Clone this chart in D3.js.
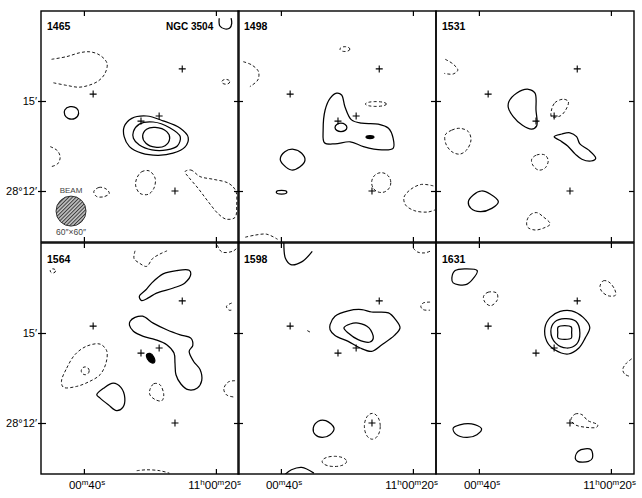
<!DOCTYPE html>
<html>
<head>
<meta charset="utf-8">
<script src="https://cdn.jsdelivr.net/npm/d3@7"></script>
<style>
  body { margin: 0; background: #fff; }
</style>
</head>
<body>
<div id="chart"></div>
<script>
// channel velocities (km/s), one panel each
const channels = ["1465", "1498", "1531", "1564", "1598", "1631"];
// RA in seconds after 11h00m, Dec in arcmin after 28deg
const raTicks = [40, 20];
const raLabels = [["00", "m", "40", "s"], ["11", "h", "00", "m", "20", "s"]];
const decTicks = [15, 12];
const decLabels = ["15\u2032", "28\u00b012\u2032"];
// markers (same in every channel)
const stars = [[25.1, 16.07], [38.6, 15.23], [28.6, 14.5], [31.35, 14.33], [26.2, 12.0]];
// beam: centre and size in arcsec
const beam = { ra: 41.95, dec: 11.33, size: 60 };

// contours: lev > 0 solid, lev < 0 dashed, lev 9 = filled peak
const c1465 = [
  { lev: -1, open: true, pts: [[44.9,16.39],[42.6,16.48],[40.6,16.61],[39.1,16.64],[37.6,16.53],[36.5,16.26],[36.8,15.92],[37.8,15.67],[39.3,15.52],[40.8,15.46],[42.6,15.52],[44.7,15.61]] },
  { lev: 1, pts: [[42.9,14.7],[42.1,14.81],[41.1,14.76],[40.8,14.59],[41.35,14.42],[42.4,14.42],[42.9,14.53]] },
  { lev: 1, pts: [[33.9,14.14],[32.75,14.42],[30.5,14.5],[28.0,14.34],[25.4,14.09],[24.2,13.79],[24.7,13.46],[26.5,13.26],[28.7,13.19],[31.25,13.26],[33.1,13.48],[33.9,13.81]] },
  { lev: 2, pts: [[32.5,13.98],[31.6,14.23],[29.5,14.3],[27.0,14.11],[25.4,13.81],[25.85,13.5],[27.45,13.37],[29.7,13.37],[31.6,13.53],[32.5,13.76]] },
  { lev: 3, pts: [[31.1,13.83],[30.5,14.06],[29.2,14.12],[27.45,13.98],[27.0,13.76],[27.7,13.51],[29.2,13.46],[30.6,13.59]] },
  { lev: -1, open: true, pts: [[45.1,13.48],[44.0,13.34],[43.6,13.12],[44.0,12.9],[45.0,12.81]] },
  { lev: -1, pts: [[32.0,12.42],[31.25,12.64],[30.1,12.67],[29.2,12.42],[29.4,12.09],[30.25,11.89],[31.5,11.92],[32.15,12.17]] },
  { lev: -1, pts: [[38.5,11.98],[37.7,12.12],[36.65,12.07],[36.15,11.92],[36.95,11.81],[38.1,11.82]] },
  { lev: -1, pts: [[24.7,12.64],[23.8,12.7],[22.4,12.48],[20.4,12.39],[18.1,12.26],[17.0,12.01],[16.85,11.53],[17.1,11.12],[18.4,11.06],[19.6,11.23],[21.15,11.64],[22.7,12.09],[24.2,12.48]] },
  { lev: -1, ell: [18.5, 15.64, 0.6, 0.08] },
  { lev: 1, open: true, pts: [[19.5,17.76],[19.4,17.5],[18.6,17.4],[17.9,17.43],[17.6,17.59],[17.7,17.76]] }
];
const c1498 = [
  { lev: -1, ell: [30.3, 16.73, 0.75, 0.08] },
  { lev: -1, open: true, pts: [[45.7,16.31],[44.4,16.2],[43.4,15.98],[43.5,15.7],[44.7,15.48]] },
  { lev: -1, ell: [25.6, 14.9, 1.6, 0.08] },
  { lev: 1, pts: [[33.3,14.7],[32.55,15.09],[31.55,15.26],[30.8,15.2],[30.3,14.81],[29.3,14.37],[27.75,14.26],[25.25,14.23],[23.7,14.09],[23.0,13.76],[23.0,13.42],[24.7,13.37],[27.5,13.48],[29.5,13.64],[31.8,13.57],[33.4,13.61],[33.6,14.03]] },
  { lev: 2, ell: [30.9, 14.12, 0.9, 0.14] },
  { lev: 9, ell: [26.5, 13.8, 0.6, 0.05] },
  { lev: 1, pts: [[40.1,13.06],[39.4,13.31],[38.1,13.39],[36.85,13.26],[36.35,13.03],[37.1,12.81],[38.4,12.7],[39.6,12.87]] },
  { lev: 1, ell: [39.9, 11.96, 0.8, 0.06] },
  { lev: -1, ell: [24.8, 12.28, 1.45, 0.33] },
  { lev: -1, open: true, pts: [[16.9,12.17],[18.7,12.22],[20.3,12.06],[21.35,11.79],[21.1,11.53],[19.7,11.34],[17.7,11.3],[16.65,11.37]] },
  { lev: -1, open: true, pts: [[45.4,10.46],[43.9,10.53],[42.15,10.56],[40.5,10.39]] }
];
const c1531 = [
  { lev: -1, open: true, pts: [[45.1,16.39],[43.9,16.23],[43.2,16.03],[43.9,15.9],[45.25,15.92]] },
  { lev: 1, pts: [[35.45,14.98],[34.3,15.26],[32.5,15.39],[31.5,15.26],[31.35,14.7],[31.25,14.17],[32.0,14.06],[33.4,14.19],[34.8,14.48],[35.55,14.79]] },
  { lev: -1, pts: [[29.0,14.7],[28.5,14.94],[27.2,15.06],[26.45,14.98],[26.85,14.7],[27.7,14.5],[29.0,14.48]] },
  { lev: 1, pts: [[28.6,13.81],[27.45,13.9],[26.2,13.94],[25.2,13.81],[24.7,13.57],[23.4,13.37],[22.3,13.09],[23.0,13.0],[24.4,13.06],[25.4,13.23],[26.55,13.5],[27.7,13.68]] },
  { lev: -1, pts: [[45.1,13.87],[44.1,14.03],[42.9,14.09],[41.6,13.98],[41.2,13.7],[41.85,13.37],[42.9,13.23],[44.1,13.31],[45.0,13.57]] },
  { lev: -1, pts: [[32.0,13.06],[31.25,13.2],[30.0,13.2],[29.5,13.01],[30.0,12.76],[31.0,12.7],[31.85,12.87]] },
  { lev: 1, pts: [[41.6,11.64],[40.85,11.87],[39.6,12.0],[38.3,11.9],[37.05,11.64],[38.05,11.42],[39.8,11.31],[41.2,11.42]] },
  { lev: -1, pts: [[32.75,10.98],[32.25,11.2],[31.25,11.28],[30.25,11.14],[29.2,10.9],[30.25,10.76],[31.5,10.7],[32.6,10.79]] }
];
const c1564 = [
  { lev: -1, ell: [44.7, 17.07, 0.4, 0.07] },
  { lev: -1, open: true, pts: [[32.25,17.74],[32.4,17.48],[31.6,17.33],[30.5,17.22],[29.6,17.48],[28.5,17.63],[27.4,17.74]] },
  { lev: 1, pts: [[31.6,16.22],[30.6,16.44],[29.7,16.67],[28.0,16.97],[25.95,17.08],[24.05,17.09],[23.8,16.97],[24.7,16.67],[26.45,16.5],[29.0,16.33],[30.25,16.17],[31.25,16.08]] },
  { lev: -1, open: true, pts: [[17.6,16.0],[18.4,15.89],[18.0,15.76],[17.4,15.78]] },
  { lev: 1, pts: [[33.0,15.39],[32.25,15.52],[31.1,15.56],[29.5,15.33],[27.45,15.11],[25.4,14.94],[23.8,14.83],[23.5,14.59],[24.05,14.39],[23.4,14.06],[22.4,13.78],[22.15,13.41],[22.8,13.17],[24.2,13.11],[25.3,13.3],[26.05,13.61],[26.2,14.0],[26.35,14.33],[27.45,14.61],[29.2,14.78],[31.0,14.89],[32.5,15.06],[33.1,15.26]] },
  { lev: 9, pts: [[30.5,14.28],[30.0,14.32],[29.4,14.19],[29.3,14.03],[29.7,14.0],[30.4,14.14]] },
  { lev: -1, pts: [[43.4,13.39],[42.6,13.83],[41.35,14.28],[39.6,14.56],[37.55,14.63],[36.55,14.41],[36.65,14.0],[37.55,13.61],[39.1,13.39],[41.1,13.22],[43.1,13.19]] },
  { lev: -2, ell: [39.8, 13.74, 0.6, 0.13] },
  { lev: 1, pts: [[38.05,12.94],[36.95,13.17],[35.55,13.33],[34.4,13.19],[33.8,12.83],[34.1,12.52],[35.05,12.41],[36.3,12.61],[37.55,12.83]] },
  { lev: -1, pts: [[30.0,13.11],[29.4,13.31],[28.5,13.28],[27.9,12.94],[28.2,12.74],[29.2,12.78],[30.0,12.94]] },
  { lev: -1, open: true, pts: [[17.1,13.41],[18.1,13.37],[18.8,13.14],[18.4,12.94],[17.1,12.86]] },
  { lev: -1, open: true, pts: [[32.0,10.41],[30.5,10.44],[28.5,10.41],[27.05,10.33]] },
  { lev: -1, open: true, pts: [[19.8,17.93],[19.1,17.7],[17.4,17.73],[16.65,17.87]] }
];
const c1598 = [
  { lev: 1, open: true, pts: [[39.55,18.0],[39.3,17.48],[38.5,17.28],[36.85,17.37],[35.25,17.72]] },
  { lev: -1, open: true, pts: [[19.95,17.83],[19.3,17.7],[18.2,17.67],[17.25,17.74]] },
  { lev: -1, open: true, pts: [[17.4,16.03],[18.45,16.0],[18.8,15.89],[18.45,15.78],[17.4,15.76]] },
  { lev: -1, open: true, pts: [[36.0,15.08],[35.5,15.02]] },
  { lev: 1, pts: [[32.55,15.28],[31.8,15.56],[29.8,15.74],[27.75,15.78],[26.25,15.7],[23.7,15.67],[22.6,15.44],[21.95,15.17],[22.8,14.92],[24.7,14.61],[26.25,14.39],[28.0,14.5],[29.8,14.72],[31.8,14.92],[32.55,15.11]] },
  { lev: 2, pts: [[30.45,15.17],[29.5,15.3],[28.3,15.33],[26.65,15.17],[26.0,14.83],[26.5,14.7],[28.3,14.78],[29.8,15.0]] },
  { lev: 1, pts: [[35.1,11.83],[34.35,12.06],[33.2,12.08],[31.95,11.83],[32.55,11.61],[33.75,11.52],[34.8,11.61]] },
  { lev: -1, ell: [26.15, 11.89, 1.2, 0.43] },
  { lev: -1, ell: [31.9, 10.72, 1.85, 0.17] },
  { lev: 1, open: true, pts: [[39.5,10.26],[38.4,10.44],[36.85,10.52],[35.0,10.33]] }
];
const c1631 = [
  { lev: 1, pts: [[44.1,16.83],[43.6,17.08],[42.1,17.14],[40.25,17.08],[41.0,16.78],[42.0,16.61],[43.9,16.67]] },
  { lev: -1, pts: [[39.3,16.22],[38.6,16.36],[37.3,16.33],[37.2,16.11],[38.2,15.91],[39.1,16.03]] },
  { lev: -1, pts: [[21.65,16.56],[21.15,16.74],[20.3,16.7],[19.4,16.44],[19.3,16.26],[20.4,16.24],[21.4,16.39]] },
  { lev: 1, pts: [[30.0,15.17],[29.2,15.52],[27.7,15.72],[25.95,15.74],[24.2,15.52],[23.2,15.19],[23.9,14.83],[24.85,14.5],[26.45,14.3],[28.5,14.44],[29.7,14.72]] },
  { lev: 2, pts: [[29.1,15.06],[28.5,15.37],[27.0,15.48],[25.3,15.39],[24.7,15.0],[25.2,14.63],[26.7,14.5],[28.4,14.67]] },
  { lev: 3, pts: [[28.0,15.2],[27.0,15.25],[26.0,15.2],[25.95,15.02],[26.0,14.83],[27.0,14.79],[28.0,14.83],[28.05,15.02]] },
  { lev: -1, open: true, pts: [[16.85,14.14],[17.75,13.97],[18.2,13.78],[17.9,13.63],[17.25,13.56]] },
  { lev: -1, pts: [[26.05,12.11],[25.4,12.3],[24.4,12.28],[23.5,12.08],[22.0,11.94],[22.15,11.86],[23.9,11.86],[25.4,11.94]] },
  { lev: 1, pts: [[43.9,11.83],[42.9,11.94],[41.1,11.97],[39.6,11.81],[40.3,11.61],[41.85,11.52],[43.5,11.63]] },
  { lev: 1, pts: [[25.4,10.83],[24.95,11.06],[23.9,11.14],[23.0,11.11],[22.8,10.83],[23.4,10.72],[25.05,10.72]] }
];
const contourSets = [c1465, c1498, c1531, c1564, c1598, c1631];

let W = 198, H = 231;
let colX = [41, 238, 436];
let rowY = [11, 243];
let font = "'Liberation Sans', Arial, sans-serif";

let x = d3.scaleLinear().domain([46.5, 16.5]).range([0, W]);
let y = d3.scaleLinear().domain([18, 10.3]).range([0, H]);

let svg = d3.select("#chart")
  .append("svg")
    .attr("width", 642)
    .attr("height", 498)
    .style("display", "block")
;

let defs = svg.append("defs");
let pat = defs.append("pattern")
  .attr("id", "hatch")
  .attr("patternUnits", "userSpaceOnUse")
  .attr("width", 2.6)
  .attr("height", 2.6)
  .attr("patternTransform", "rotate(45)");
pat.append("rect").attr("width", 2.6).attr("height", 2.6).attr("fill", "#c4c4c4");
pat.append("line").attr("x1", 0.5).attr("y1", 0).attr("x2", 0.5).attr("y2", 2.6)
  .attr("stroke", "#3a3a3a").attr("stroke-width", 1);

defs.append("clipPath").attr("id", "pclip")
  .append("rect").attr("width", W).attr("height", H);

let lineOpen = d3.line()
  .x(d => x(d[0]))
  .y(d => y(d[1]))
  .curve(d3.curveCatmullRom.alpha(0.5));
let lineClosed = d3.line()
  .x(d => x(d[0]))
  .y(d => y(d[1]))
  .curve(d3.curveCatmullRomClosed.alpha(0.5));

function styleAxis(g) {
  g.select(".domain").remove();
  g.selectAll("line").attr("stroke", "#000").attr("stroke-width", 1.2);
}

contourSets.forEach((set, i) => {
  let col = i % 3, row = Math.floor(i / 3);
  let g = svg.append("g").attr("transform", `translate(${colX[col]},${rowY[row]})`);
  let inner = g.append("g").attr("clip-path", "url(#pclip)");

  set.forEach(c => {
    let dashed = c.lev < 0, filled = c.lev >= 9;
    let el;
    if (c.ell) {
      el = inner.append("ellipse")
        .attr("cx", x(c.ell[0]))
        .attr("cy", y(c.ell[1]))
        .attr("rx", x(c.ell[0] - c.ell[2]) - x(c.ell[0]))
        .attr("ry", y(c.ell[1] - c.ell[3]) - y(c.ell[1]));
    } else {
      el = inner.append("path").attr("d", (c.open ? lineOpen : lineClosed)(c.pts));
    }
    el.attr("fill", filled ? "#000" : "none")
      .attr("stroke", "#000")
      .attr("stroke-width", dashed ? 0.9 : 1.25)
      .attr("stroke-dasharray", dashed ? "3,2.2" : null);
  });

  // star markers
  inner.selectAll(".star").data(stars).enter()
    .append("path")
      .attr("d", d => `M${x(d[0]) - 3.5},${y(d[1])}h7M${x(d[0])},${y(d[1]) - 3.5}v7`)
      .attr("stroke", "#000")
      .attr("stroke-width", 1.1);

  // ticks
  g.append("g").call(d3.axisTop(x).tickValues(raTicks).tickSize(-5).tickFormat("")).call(styleAxis);
  g.append("g").attr("transform", `translate(0,${H})`)
    .call(d3.axisBottom(x).tickValues(raTicks).tickSize(-5).tickFormat("")).call(styleAxis);
  g.append("g").call(d3.axisLeft(y).tickValues(decTicks).tickSize(-5).tickFormat("")).call(styleAxis);
  g.append("g").attr("transform", `translate(${W},0)`)
    .call(d3.axisRight(y).tickValues(decTicks).tickSize(-5).tickFormat("")).call(styleAxis);

  if (col == 0) {
    let ax = g.append("g")
      .call(d3.axisLeft(y).tickValues(decTicks).tickSize(3).tickPadding(1)
        .tickFormat((d, k) => decLabels[k]))
      .call(styleAxis);
    ax.selectAll("text")
      .attr("font-family", font)
      .attr("font-size", 11)
      .attr("fill", "#000");
  }

  // frame
  g.append("rect")
    .attr("width", W)
    .attr("height", H)
    .attr("fill", "none")
    .attr("stroke", "#000")
    .attr("stroke-width", 1.4);

  // channel label
  g.append("text")
    .attr("x", 6)
    .attr("y", row == 0 ? 19 : 20)
    .attr("font-family", font)
    .attr("font-size", 10.5)
    .attr("font-weight", "bold")
    .text(channels[i]);

  if (i == 0) {
    g.append("text")
      .attr("x", 125)
      .attr("y", 19)
      .attr("font-family", font)
      .attr("font-size", 10)
      .attr("font-weight", "bold")
      .text("NGC 3504");

    // beam
    let r = y(beam.dec - beam.size / 120) - y(beam.dec);
    g.append("circle")
      .attr("cx", x(beam.ra))
      .attr("cy", y(beam.dec))
      .attr("r", r)
      .attr("fill", "url(#hatch)")
      .attr("stroke", "#222")
      .attr("stroke-width", 0.9);
    g.append("text")
      .attr("x", x(beam.ra))
      .attr("y", y(beam.dec) - r - 3)
      .attr("text-anchor", "middle")
      .attr("font-family", font)
      .attr("font-size", 8)
      .attr("fill", "#444")
      .text("BEAM");
    g.append("text")
      .attr("x", x(beam.ra))
      .attr("y", y(beam.dec) + r + 8.5)
      .attr("text-anchor", "middle")
      .attr("font-family", font)
      .attr("font-size", 8.5)
      .attr("fill", "#444")
      .text(beam.size + "\u2033\u00d7" + beam.size + "\u2033");
  }

  // RA labels under the bottom row
  if (row == 1) {
    raLabels.forEach((parts, k) => {
      let t = g.append("text")
        .attr("y", H + 15)
        .attr("font-family", font)
        .attr("font-size", 11.5)
        .attr("fill", "#000");
      if (k == 0) t.attr("x", x(raTicks[0]) - 15);
      else t.attr("x", W + 2).attr("text-anchor", "end");
      parts.forEach((p, j) => {
        let sup = j % 2 == 1;
        t.append("tspan")
          .attr("font-size", sup ? 8 : 11.5)
          .attr("dy", sup ? -4.5 : (j > 0 ? 4.5 : 0))
          .text(p);
      });
    });
  }
});
</script>
</body>
</html>
